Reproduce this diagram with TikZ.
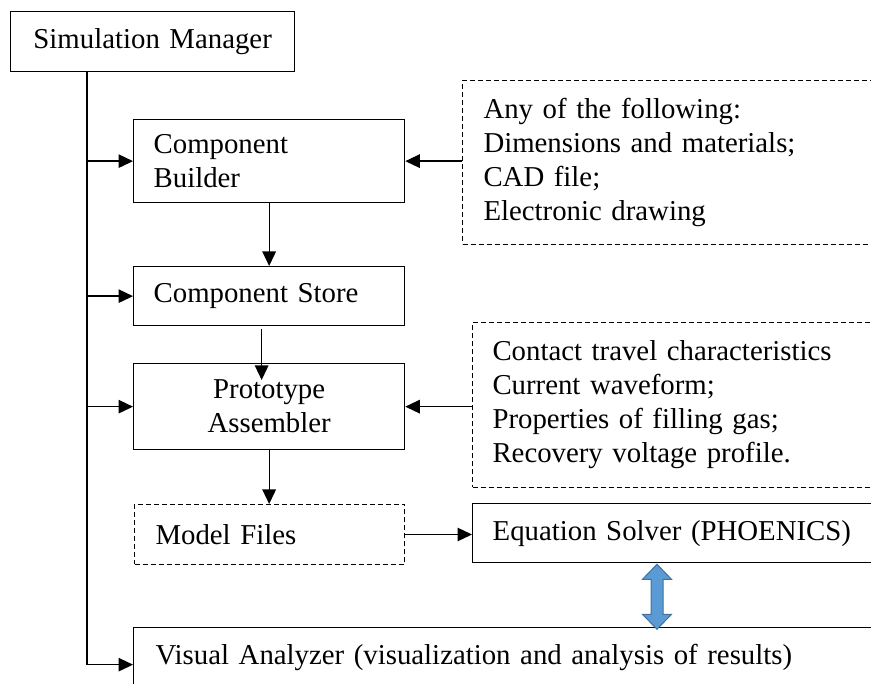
\documentclass[tikz,border=0pt]{standalone}
\usepackage{fontspec}
\setmainfont{Liberation Serif}
\usetikzlibrary{arrows.meta,calc}
\definecolor{linkfill}{HTML}{5B9BD5}
\definecolor{linkedge}{HTML}{41719C}
\begin{document}
\begin{tikzpicture}[x=1pt,y=-1pt,
  font=\fontsize{28.8}{34}\selectfont,
  box/.style={draw, line width=1.3pt, anchor=north west, inner xsep=20pt, inner ysep=0pt, align=left},
  dbox/.style={box, line width=1pt, dash pattern=on 5pt off 3pt},
  arr/.style={line width=1.3pt, -{Triangle[length=14.5pt,width=13.5pt]}}]
\useasboundingbox (0,0) rectangle (871,684);
\clip (0,0) rectangle (871,684);

% main chain of tools
\node[box, text width=244pt, minimum height=60pt, align=center] (sm) at (10,11) {Simulation Manager};
\node[box, text width=231pt, minimum height=83pt] (cb) at (133,119) {Component\\Builder};
\node[box, text width=231pt, minimum height=59pt] (cs) at (133,266) {Component Store};
\node[box, text width=231pt, minimum height=86pt, align=center] (pa) at (133,363) {Prototype\\Assembler};
\node[dbox, inner xsep=21pt, text width=228pt, minimum height=60pt] (mf) at (134,504) {Model Files};
\node[box, text width=388pt, minimum height=59pt] (es) at (472,503) {Equation Solver (PHOENICS)};
\node[box, inner xsep=22pt, text width=736pt, minimum height=60pt] (va) at (133,627) {Visual Analyzer (visualization and analysis of results)};

% input descriptions
\node[dbox, inner xsep=21pt, text width=398pt, minimum height=164pt] (in1) at (462,80)
  {Any of the following:\\Dimensions and materials;\\CAD file;\\Electronic drawing};
\node[dbox, inner xsep=20pt, text width=388pt, minimum height=165pt] (in2) at (472,322)
  {Contact travel characteristics\\Current waveform;\\Properties of filling gas;\\Recovery voltage profile.};

% trunk from the manager to every tool
\coordinate (trunk) at ([xshift=77pt]sm.south west);
\draw[arr] (trunk) |- ([yshift=-7pt]va.west);
\draw[arr] (cb.west -| trunk) -- (cb.west);
\draw[arr] (cs.west -| trunk) -- (cs.west);
\draw[arr] (pa.west -| trunk) -- (pa.west);

% data flow
\draw[arr] (cb.south) -- (cs.north);
\draw[arr] ([xshift=-7.5pt,yshift=-3pt]cs.south) -- ([xshift=-7.5pt,yshift=-17pt]pa.north);
\draw[arr] (pa.south) -- (pa.south |- mf.north);
\draw[arr] (mf.east) -- (mf.east -| es.west);
\draw[arr] (in1.west |- cb.east) -- (cb.east);
\draw[arr] (in2.west |- pa.east) -- (pa.east);

% two-way link between solver and analyzer
\coordinate (lx) at (657,0);
\coordinate (ltop) at ($(es.south -| lx)+(0,1)$);
\draw[linkedge, fill=linkfill, line width=1pt, line join=miter]
  (ltop) -- ++(14.5,15) -- ++(-8.5,0) -- ++(0,35) -- ++(8.5,0)
  -- ++(-14.5,15) -- ++(-14.5,-15) -- ++(8.5,0) -- ++(0,-35) -- ++(-8.5,0) -- cycle;
\end{tikzpicture}
\end{document}
